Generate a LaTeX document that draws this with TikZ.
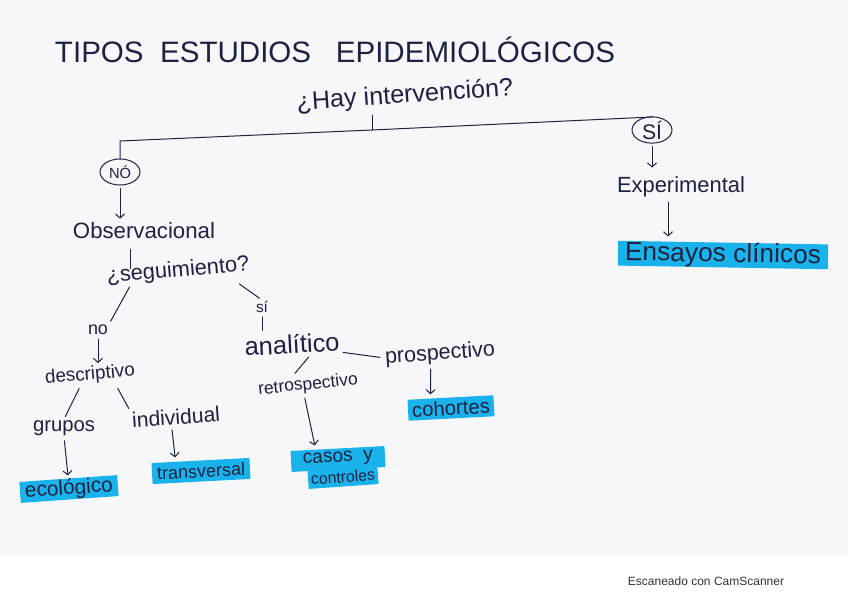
\documentclass[tikz,border=0pt]{standalone}
\usepackage{fontspec}
\setmainfont{Liberation Sans}
\usetikzlibrary{arrows.meta,shapes.geometric}
\definecolor{ink}{HTML}{1E2242}
\definecolor{hl}{HTML}{1AB2EA}
\definecolor{paper}{HTML}{F7F6F9}
\definecolor{mark}{HTML}{333333}
\newcommand\W[2]{\resizebox{#1pt}{!}{\fontsize{20}{24}\selectfont #2}}
\begin{document}
\begin{tikzpicture}[x=1pt,y=-1pt,
  hw/.style={text=ink, inner sep=1pt},
  hlbox/.style={hw, fill=hl, inner sep=0pt},
  oval/.style={ellipse, draw=ink, line width=1pt, text=ink, minimum width=40pt, minimum height=26pt, inner sep=0pt},
  ln/.style={draw=ink, line width=1pt, line cap=round},
  arr/.style={ln, -{Straight Barb[length=4pt,width=9pt]}}]
\useasboundingbox (0,0) rectangle (848,599);
\fill[paper] (0,0) rectangle (848,555);
\fill[white] (0,555) rectangle (848,599);

% texts
\node[hw] (title) at (335,50) {\W{560}{TIPOS\ \ ESTUDIOS\ \ \ EPIDEMIOLÓGICOS}};
\node[hw, rotate=4] (hay) at (405,96) {\W{217}{¿Hay intervención?}};
\node[oval] (noC) at (120,172) {\W{22}{NÓ}};
\node[oval] (siC) at (652,130) {\W{20}{SÍ}};
\node[hw] (exp) at (681,187) {\W{128}{Experimental}};
\node[hlbox, rotate=-1, minimum width=210pt, minimum height=22pt] (ens) at (723,255) {\W{196}{Ensayos clínicos}};
\node[hw] (obs) at (144,231) {\W{142}{Observacional}};
\node[hw, rotate=5] (seg) at (178,271) {\W{143}{¿seguimiento?}};
\node[hw] (nol) at (98,330) {\W{20}{no}};
\node[hw] (sil) at (262,307) {\W{12}{sí}};
\node[hw, rotate=5] (desc) at (90,375) {\W{90}{descriptivo}};
\node[hw, rotate=3] (ana) at (292,344) {\W{95}{analítico}};
\node[hw] (grp) at (64,428) {\W{62}{grupos}};
\node[hw, rotate=4] (ind) at (176,417) {\W{88}{individual}};
\node[hw, rotate=6] (retro) at (308,385) {\W{100}{retrospectivo}};
\node[hw, rotate=4] (pros) at (440,354) {\W{110}{prospectivo}};
\node[hlbox, rotate=4, minimum width=98pt, minimum height=21pt] (eco) at (69,489) {\W{88}{ecológico}};
\node[hlbox, rotate=3, minimum width=98pt, minimum height=21pt] (trans) at (201,471) {\W{88}{transversal}};
\node[hlbox, rotate=3, minimum width=86pt, minimum height=21pt] (coh) at (451,408) {\W{78}{cohortes}};
\node[hlbox, rotate=3, minimum width=94pt, minimum height=21pt] (casos) at (338,459) {\W{70}{casos\ \ y}};
\node[hlbox, rotate=4, minimum width=70pt, minimum height=19pt] (contr) at (343,477) {\W{64}{controles}};
\node[text=mark, inner sep=0pt] (scan) at (706,581) {\fontsize{12}{14}\selectfont Escaneado con CamScanner};

% junction coordinates
\coordinate (L) at (120,141);
\coordinate (J) at (372,130);
\coordinate (R) at (652,117);

% connectors
\draw[ln, shorten >=6pt] (J) -- (J |- hay.south);
\draw[ln] (noC.north) -- (L) -- (J) -- (R) -- (siC.north);
\draw[arr, shorten <=3pt, shorten >=3pt] (noC.south) -- (noC.south |- obs.north);
\draw[arr, shorten <=3pt, shorten >=8pt] (siC.south) -- (siC.south |- exp.north);
\draw[arr, shorten <=4pt, shorten >=6pt] ([xshift=-13pt]exp.south) -- ([xshift=-13pt]exp.south |- ens.north);
\draw[ln, shorten <=9pt, shorten >=-9pt] ([xshift=-14pt]obs.south) -- ([xshift=-14pt]obs.south |- seg.north);
\draw[ln, shorten <=3pt, shorten >=3pt] ([shift={(-48,2)}]seg.south) -- (nol.north east);
\draw[ln, shorten <=3pt, shorten >=3pt] ([shift={(58,0)}]seg.south) -- (sil.north);
\draw[ln, shorten <=3pt, shorten >=3pt] (sil.south) -- (sil.south |- ana.north);
\draw[arr, shorten <=3pt, shorten >=2pt] (nol.south) -- (nol.south |- desc.north);
\draw[ln, shorten <=4pt, shorten >=3pt] ([xshift=-10pt]desc.south) -- (grp.north);
\draw[ln, shorten <=4pt, shorten >=3pt] ([xshift=25pt]desc.south) -- (ind.north west);
\draw[arr, shorten <=4pt, shorten >=3pt] (grp.south) -- (eco.north);
\draw[arr, shorten <=4pt, shorten >=3pt] ([xshift=-5pt]ind.south) -- ([xshift=-25pt]trans.north);
\draw[ln, shorten <=3pt, shorten >=3pt] ([xshift=18pt]ana.south) -- ([xshift=-14pt]retro.north);
\draw[ln, shorten <=2pt, shorten >=4pt] (ana.south east) -- (pros.west);
\draw[arr, shorten <=4pt, shorten >=3pt] ([xshift=-10pt]pros.south) -- ([xshift=-20pt]coh.north);
\draw[arr, shorten <=4pt, shorten >=3pt] ([xshift=-5pt]retro.south) -- ([xshift=-22pt]casos.north);
\end{tikzpicture}
\end{document}
